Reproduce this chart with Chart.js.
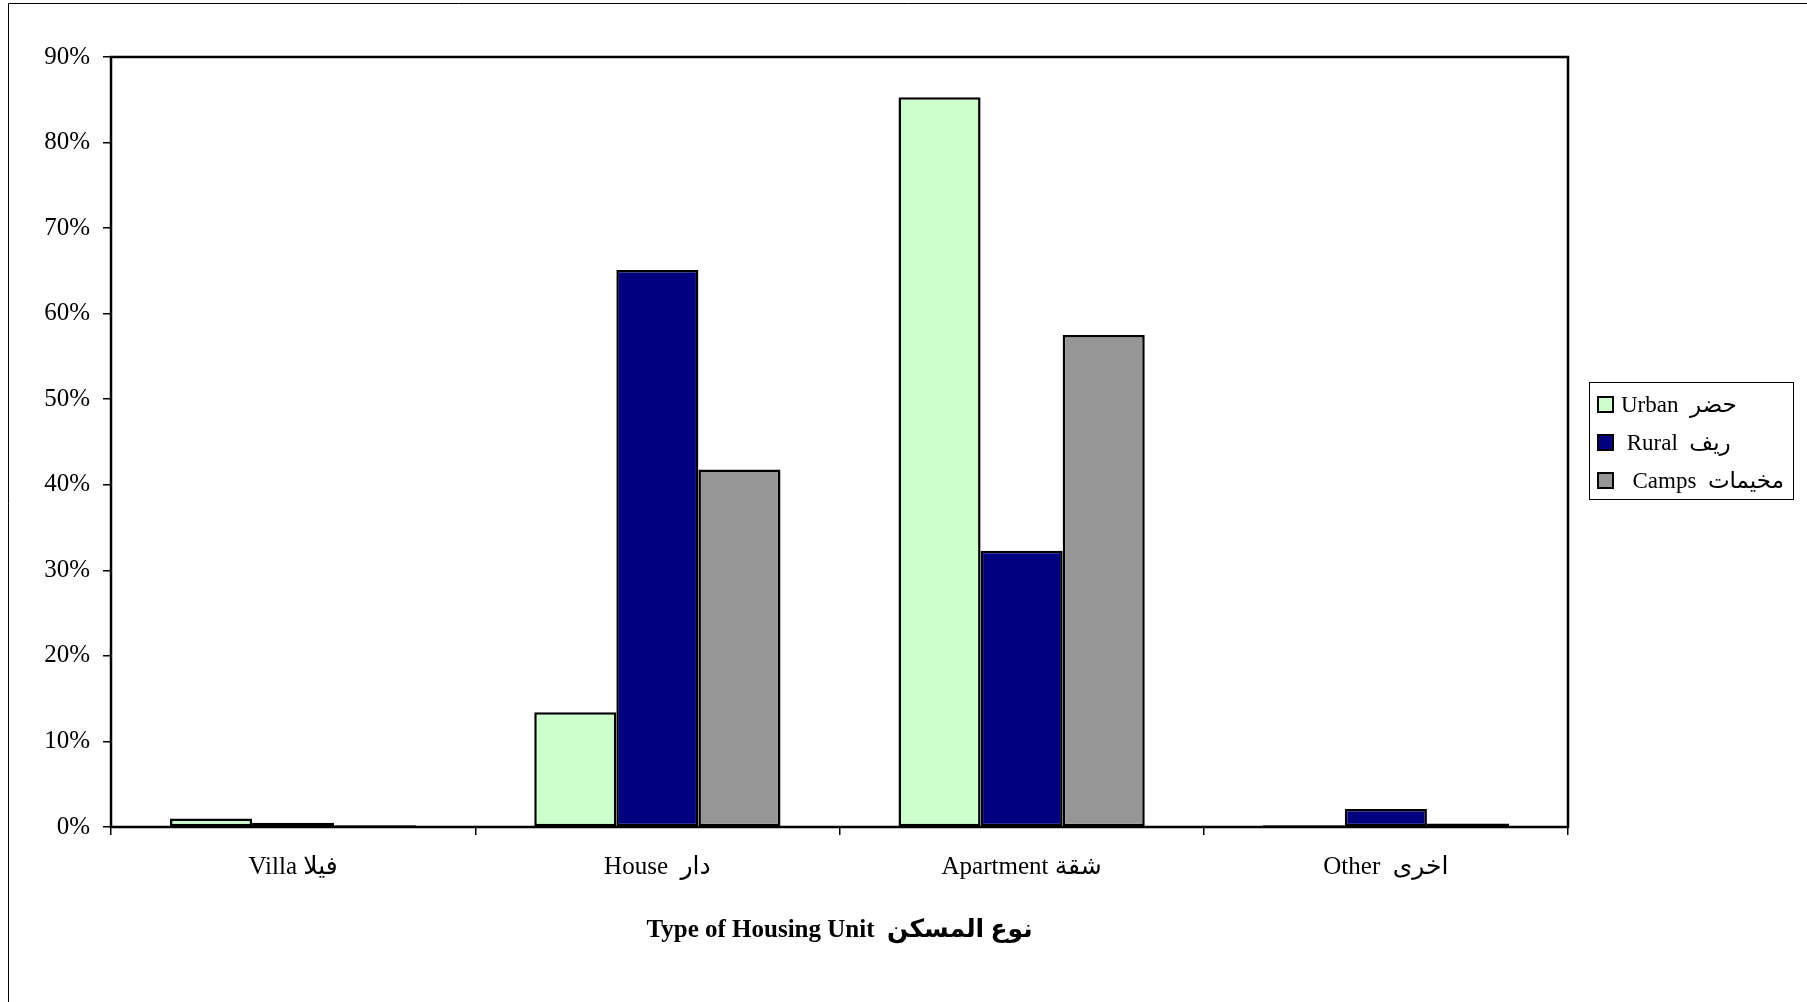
<!DOCTYPE html>
<html><head><meta charset="utf-8">
<script src="https://cdn.jsdelivr.net/npm/chart.js@4"></script>
<style>html,body{margin:0;padding:0;background:#fff;} canvas{display:block;}</style>
</head><body>
<canvas id="c" width="1807" height="1002"></canvas>
<script>
const categories = ['Villa فيلا', 'House  دار', 'Apartment شقة', 'Other  اخرى'];
const seriesNames = ['Urban  حضر', ' Rural  ريف', '  Camps  مخيمات'];
const urbanValues = [1.0, 13.4, 85.3, 0.2];
const ruralValues = [0.5, 65.1, 32.3, 2.1];
const campsValues = [0.2, 41.8, 57.5, 0.4];
const seriesColors = ['#CCFFCC', '#000080', '#969696'];
const yMin = 0, yMax = 90, yStep = 10;
const axisTitle = 'Type of Housing Unit  نوع المسكن';

const FAM = '"Liberation Serif", "Times New Roman", "DejaVu Sans", serif';

const framePlugin = {
  id: 'frame',
  beforeDraw(chart) {
    const ctx = chart.ctx;
    ctx.save();
    ctx.fillStyle = '#fff';
    ctx.fillRect(0, 0, chart.width, chart.height);
    ctx.strokeStyle = '#000';
    ctx.lineWidth = 1;
    ctx.beginPath();
    ctx.moveTo(8.5, chart.height + 5);
    ctx.lineTo(8.5, 3.5);
    ctx.lineTo(chart.width + 5, 3.5);
    ctx.stroke();
    ctx.restore();
  },
  afterDatasetsDraw(chart) {
    const a = chart.chartArea;
    const ctx = chart.ctx;
    ctx.save();
    ctx.strokeStyle = '#000';
    ctx.lineWidth = 2.5;
    ctx.strokeRect(a.left, a.top, a.right - a.left, a.bottom - a.top);
    ctx.restore();
  },
  afterDraw(chart) {
    const ctx = chart.ctx;
    ctx.save();
    ctx.strokeStyle = '#000';
    ctx.lineWidth = 1;
    ctx.strokeRect(1589.5, 382.5, 204, 117);
    ctx.font = '23px ' + FAM;
    ctx.textBaseline = 'middle';
    ctx.textAlign = 'left';
    chart.data.datasets.forEach((ds, i) => {
      const y = 404.5 + i * 38;
      ctx.fillStyle = ds.backgroundColor;
      ctx.fillRect(1598, y - 7.5, 15, 15);
      ctx.lineWidth = 2;
      ctx.strokeStyle = '#000';
      ctx.strokeRect(1598, y - 7.5, 15, 15);
      ctx.fillStyle = '#000';
      ctx.fillText(ds.label, 1621, y + 1);
    });
    ctx.restore();
  }
};

new Chart(document.getElementById('c'), {
  type: 'bar',
  data: {
    labels: categories,
    datasets: [
      { label: seriesNames[0], data: urbanValues, backgroundColor: seriesColors[0] },
      { label: seriesNames[1], data: ruralValues, backgroundColor: seriesColors[1] },
      { label: seriesNames[2], data: campsValues, backgroundColor: seriesColors[2] }
    ].map(d => Object.assign(d, { borderColor: '#000', borderWidth: 2.5, borderSkipped: false }))
  },
  options: {
    responsive: false,
    animation: false,
    devicePixelRatio: 1,
    layout: { padding: { left: 0, top: 57, right: 239, bottom: 0 } },
    datasets: { bar: { categoryPercentage: 0.676, barPercentage: 1.0 } },
    plugins: { legend: { display: false }, tooltip: { enabled: false } },
    scales: {
      x: {
        grid: { display: true, drawOnChartArea: false, drawTicks: true, tickLength: 8, color: '#000', lineWidth: 1.5, offset: true },
        border: { display: false },
        ticks: { color: '#000', padding: 17, maxRotation: 0, font: { family: FAM, size: 25 } },
        title: { display: true, text: axisTitle, color: '#000', padding: { top: 0, bottom: 56 }, font: { family: FAM, size: 25, weight: 'bold' } },
        afterFit(scale) { scale.height = 175; }
      },
      y: {
        min: yMin, max: yMax,
        grid: { display: true, drawOnChartArea: false, drawTicks: true, tickLength: 8, color: '#000', lineWidth: 1.5 },
        border: { display: false },
        ticks: { stepSize: yStep, color: '#000', padding: 13, font: { family: FAM, size: 25 }, callback: v => v + '%' },
        afterFit(scale) { scale.width = 111; }
      }
    }
  },
  plugins: [framePlugin]
});
</script>
</body></html>
